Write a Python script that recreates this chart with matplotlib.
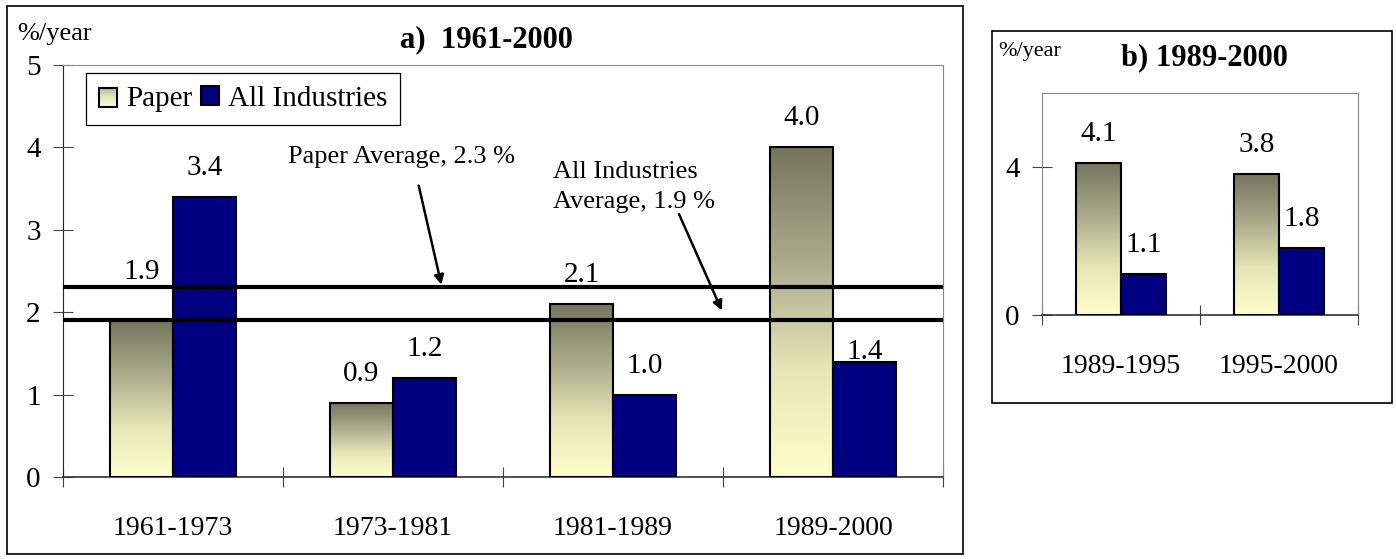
import matplotlib
matplotlib.use('Agg')
import matplotlib.pyplot as plt
import numpy as np
from matplotlib.colors import LinearSegmentedColormap
from matplotlib.patches import Rectangle
from matplotlib.legend_handler import HandlerBase

# data
periods_a = ['1961-1973', '1973-1981', '1981-1989', '1989-2000']
paper_a = [1.9, 0.9, 2.1, 4.0]
all_ind_a = [3.4, 1.2, 1.0, 1.4]
paper_avg = 2.3
all_ind_avg = 1.9

periods_b = ['1989-1995', '1995-2000']
paper_b = [4.1, 3.8]
all_ind_b = [1.1, 1.8]

plt.rcParams['font.family'] = ['Liberation Serif', 'DejaVu Serif']

NAVY = '#000080'
grad = LinearSegmentedColormap.from_list('paper', ['#ffffcc', '#e4e4b6', '#a9a98a', '#75755e'])
W = 0.286


class GradHandler(HandlerBase):
    def create_artists(self, legend, orig, xd, yd, w, h, fs, trans):
        n = 16
        arts = []
        for i in range(n):
            arts.append(Rectangle((xd, yd + h * i / n), w, h / n, facecolor=grad(0.6 * i / (n - 1)),
                                  edgecolor='none', transform=trans))
        arts.append(Rectangle((xd, yd), w, h, facecolor='none', edgecolor='black', lw=1.5, transform=trans))
        return arts


def draw_panel(ax, periods, paper, allind, ymax, yticks, nudge):
    x = np.arange(len(periods))
    g = np.linspace(0, 1, 256).reshape(-1, 1)
    pb = ax.bar(x - W / 2, paper, W, color='none', edgecolor='black', linewidth=1.5, zorder=3)
    for b in pb:
        x0 = b.get_x()
        ax.imshow(g, cmap=grad, origin='lower', aspect='auto', interpolation='bilinear',
                  extent=[x0, x0 + b.get_width(), 0, b.get_height()], zorder=2)
    ab = ax.bar(x + W / 2, allind, W, color=NAVY, edgecolor='black', linewidth=1.5, zorder=3)
    for i, v in enumerate(paper):
        ax.annotate(f'{v:.1f}', (x[i] - W / 2, v), xytext=(0, 29 + nudge.get(('paper', i), 0)),
                    textcoords='offset pixels', ha='center', va='center', fontsize=21, zorder=5)
    for i, v in enumerate(allind):
        ax.annotate(f'{v:.1f}', (x[i] + W / 2, v), xytext=(0, 29 + nudge.get(('all', i), 0)),
                    textcoords='offset pixels', ha='center', va='center', fontsize=21, zorder=5)

    ax.set_xlim(-0.5, len(periods) - 0.5)
    ax.set_ylim(0, ymax)
    ax.set_xticks(np.arange(len(periods) + 1) - 0.5)
    ax.set_xticklabels([])
    ax.set_xticks(x, minor=True)
    ax.set_xticklabels(periods, minor=True)
    ax.tick_params(axis='x', which='major', direction='inout', length=14, width=0.8, color='#444444')
    ax.tick_params(axis='x', which='minor', length=0, labelsize=20, pad=28)
    ax.set_yticks(yticks)
    ax.tick_params(axis='y', direction='inout', length=14, width=0.8, color='#444444', labelsize=21, pad=9)
    for s in ['top', 'right']:
        ax.spines[s].set_color('#888888')
        ax.spines[s].set_linewidth(0.8)
    ax.spines['bottom'].set_color('#333333')
    ax.spines['bottom'].set_linewidth(1.2)
    return pb, ab


fig = plt.figure(figsize=(13.96, 5.59), dpi=100)

# outer frames
fig.add_artist(Rectangle((0.005, 0.0089), 0.6848, 0.9803, transform=fig.transFigure,
                         fill=False, edgecolor='black', lw=1.2))
fig.add_artist(Rectangle((0.7106, 0.2791), 0.2865, 0.6655, transform=fig.transFigure,
                         fill=False, edgecolor='black', lw=1.2))

# panel a
ax1 = fig.add_axes([0.0451, 0.1467, 0.6304, 0.737])
draw_panel(ax1, periods_a, paper_a, all_ind_a, 5, range(6), {('paper', 0): 19, ('all', 3): -19})
ax1.spines['left'].set_color('#222222')
ax1.axhline(paper_avg, color='black', lw=3, zorder=4)
ax1.axhline(all_ind_avg, color='black', lw=3, zorder=4)

ax1.annotate('', xy=(1.223, paper_avg), xytext=(1.114, 3.57),
             arrowprops=dict(arrowstyle='-|>', color='black', lw=1.8, mutation_scale=14), zorder=5)
ax1.text(0.523, 3.88, 'Paper Average, 2.3 %', fontsize=19, ha='left', va='center')
ax1.annotate('', xy=(2.5, all_ind_avg + 0.09), xytext=(2.295, 3.22),
             arrowprops=dict(arrowstyle='-|>', color='black', lw=1.8, mutation_scale=14), zorder=5)
ax1.text(1.727, 3.52, 'All Industries\nAverage, 1.9 %', fontsize=19, ha='left', va='center',
         linespacing=1.5)

p_proxy = Rectangle((0, 0), 1, 1, label='Paper')
a_proxy = Rectangle((0, 0), 1, 1, facecolor=NAVY, edgecolor='black', lw=1.5, label='All Industries')
leg = ax1.legend(handles=[p_proxy, a_proxy], handler_map={p_proxy: GradHandler()}, ncol=2,
                 loc='upper left', bbox_to_anchor=(0.026, 0.981), borderaxespad=0, fontsize=21,
                 handlelength=0.62, handleheight=0.62, handletextpad=0.3, columnspacing=0.3,
                 fancybox=False, framealpha=1, edgecolor='black', borderpad=0.45)
leg.get_frame().set_linewidth(0.9)

fig.text(17 / 1396, 1 - 34 / 559, '%/year', fontsize=19, ha='left', va='center')
fig.text(486 / 1396, 1 - 40 / 559, 'a)  1961-2000', fontsize=22, fontweight='bold', ha='center', va='center')

# panel b
ax2 = fig.add_axes([0.7464, 0.4365, 0.2264, 0.3971])
draw_panel(ax2, periods_b, paper_b, all_ind_b, 6, [0, 4], {})
ax2.spines['left'].set_color('#888888')
ax2.spines['left'].set_linewidth(0.8)

fig.text(998 / 1396, 1 - 52 / 559, '%/year', fontsize=16, ha='left', va='center')
fig.text(1204 / 1396, 1 - 58 / 559, 'b) 1989-2000', fontsize=22, fontweight='bold', ha='center', va='center')

fig.savefig('out.png', dpi=100)
